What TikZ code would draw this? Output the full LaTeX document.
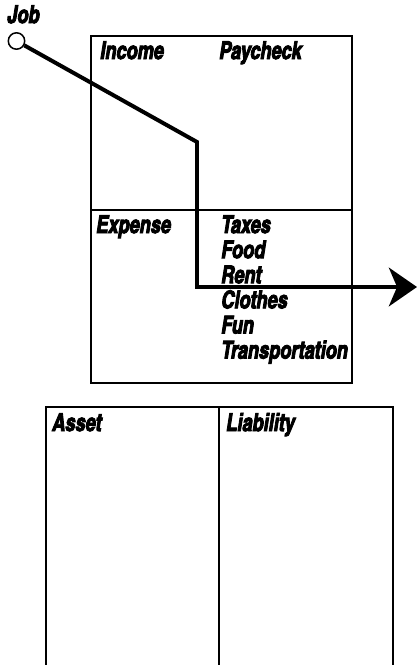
\documentclass[tikz,border=0pt]{standalone}
\usepackage{fontspec}
\newfontfamily\heroscn{texgyreheroscn-bolditalic.otf}[FakeBold=3.5,FakeStretch=0.9]
\usetikzlibrary{arrows.meta,positioning}
\tikzset{
lbl/.style={anchor=base west,inner sep=0pt,font=\heroscn\fontsize{21}{24}\selectfont},
frame/.style={line width=1.6pt},
flow/.style={line width=3.4pt,-{Stealth[length=24pt,width=33pt,inset=7pt]}}
}

\begin{document}
\begin{tikzpicture}[x=0.03cm,y=-0.03cm]
\useasboundingbox (0,0) rectangle (418,665);

\coordinate (top nw) at (91,36);
\coordinate (top se) at (352,383);
\coordinate (top w) at (91,210);
\coordinate (top e) at (352,210);
\draw[frame] (top nw) rectangle (top se);
\draw[frame] (top w) -- (top e);

\coordinate (bot sw) at (46,665);
\coordinate (bot n) at (219,407);
\coordinate (bot s) at (219,665);
\coordinate (bot se) at (393,665);
\draw[frame] (bot sw) |- (bot n) -| (bot se);
\draw[frame] (bot n) -- (bot s);

\node[lbl] (job lbl) at (7,23) {Job};
\node[circle,draw,line width=1.3pt,minimum size=14pt,inner sep=0pt] (job) at (16.5,41) {};

\node[lbl] (income) at (100,59) {Income};
\node[lbl] (paycheck) at (219,59) {Paycheck};
\node[lbl] (expense) at (96,233) {Expense};
\foreach \t [count=\i] in {Taxes,Food,Rent,Clothes,Fun,Transportation} {
\node[lbl] (e\i) at (221,{233+25.1*(\i-1)}) {\t};
}
\node[lbl] (asset) at (52,431) {Asset};
\node[lbl] (liability) at (226,431) {Liability};

\coordinate (bend) at (197,142);
\coordinate (tip) at (417,287);
\draw[flow] (job) -- (bend) |- (tip);
\end{tikzpicture}
\end{document}
